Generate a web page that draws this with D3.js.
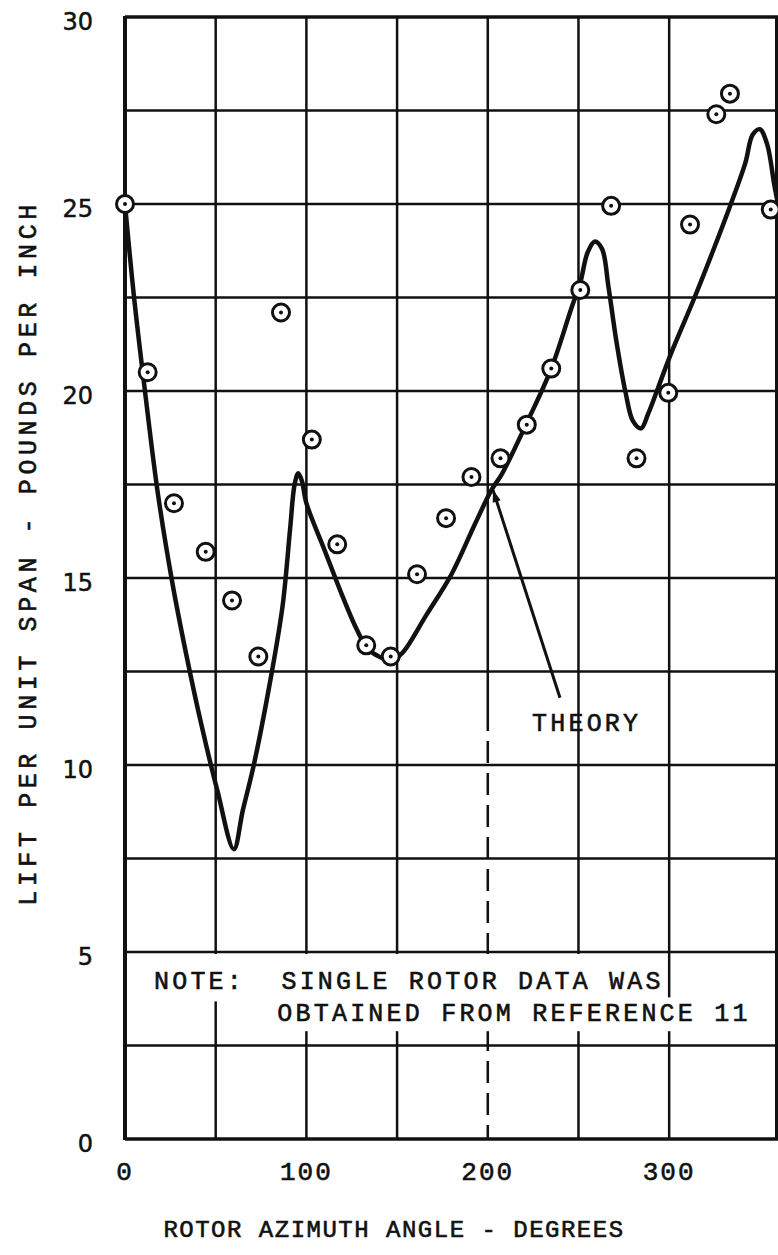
<!DOCTYPE html>
<html>
<head>
<meta charset="utf-8">
<script src="https://cdn.jsdelivr.net/npm/d3@7"></script>
<style>
  html, body { margin: 0; padding: 0; background: #fff; }
  svg { display: block; }
  text { white-space: pre; }
</style>
</head>
<body>
<svg id="chart" width="778" height="1255"></svg>
<script>
// ---------------- data ----------------
const measuredAngle = [0, 12.5, 27, 44.5, 59, 73.5, 86, 103, 117, 133, 146.5, 161, 177, 191, 207, 221.5, 235, 251, 268, 282, 299.5, 311.5, 326, 333.5, 356];
const measuredLift  = [25, 20.5, 17.0, 15.7, 14.4, 12.9, 22.1, 18.7, 15.9, 13.2, 12.9, 15.1, 16.6, 17.7, 18.2, 19.1, 20.6, 22.7, 24.95, 18.2, 19.95, 24.45, 27.4, 27.95, 24.85];

const theoryAngle = [0, 5, 11, 18, 26, 34, 42, 51, 60, 65, 71, 81, 87, 91, 93.5, 95.5, 97.5, 100, 110, 120, 128, 134, 140, 147, 153, 166, 180, 193, 202, 208, 222, 235, 246, 251, 255, 259, 263, 266.5, 271, 276, 280, 284.5, 288.5, 294, 301, 314, 325, 334, 342, 346, 350, 354, 358, 360];
const theoryLift  = [25, 22.5, 20, 17.3, 14.9, 12.9, 11.1, 9.3, 7.75, 8.8, 10.0, 12.5, 14.3, 16.3, 17.5, 17.8, 17.6, 17.0, 15.75, 14.5, 13.6, 13.1, 12.9, 12.8, 13.0, 14.0, 15.1, 16.45, 17.35, 17.8, 19.2, 20.6, 22.2, 22.9, 23.7, 24.0, 23.8, 22.8, 21.3, 19.95, 19.2, 19.0, 19.4, 20.1, 21.0, 22.5, 23.85, 25.0, 26.1, 26.85, 27.0, 26.6, 25.5, 25.0];

const xTickValues = [0, 100, 200, 300];
const xTickLabels = ["0", "100", "200", "300"];
const yTickValues = [0, 5, 10, 15, 20, 25, 30];
const yTickLabels = ["0", "5", "10", "15", "20", "25", "30"];
const xGridValues = [50, 100, 150, 200, 250, 300];
const yGridValues = [2.5, 5, 7.5, 10, 12.5, 15, 17.5, 20, 22.5, 25, 27.5];

const xTitle = "ROTOR AZIMUTH ANGLE - DEGREES";
const yTitle = "LIFT PER UNIT SPAN - POUNDS PER INCH";
const noteLines = ["NOTE:  SINGLE ROTOR DATA WAS", "OBTAINED FROM REFERENCE 11"];
const theoryLabel = "THEORY";
// arrow: from label end to the curve (data units)
const arrowFrom = [239.8, 11.8];
const arrowTo = [202.9, 17.35];
const theoryLabelAt = [224.4, 10.9];

// ---------------- chart ----------------
const svg = d3.select("#chart");
const x = d3.scaleLinear().domain([0, 360]).range([125, 778]);
const y = d3.scaleLinear().domain([0, 30]).range([1139, 17]);

const ink = "#111";
const mono = "'Liberation Mono', 'DejaVu Sans Mono', monospace";

const grid = svg.append("g");
grid.selectAll("line.h").data(yGridValues).join("line")
  .attr("x1", x(0)).attr("x2", x(360))
  .attr("y1", d => y(d)).attr("y2", d => y(d))
  .attr("stroke", ink).attr("stroke-width", 2.5);
grid.selectAll("line.v").data(xGridValues).join("line")
  .attr("x1", d => x(d)).attr("x2", d => x(d))
  .attr("y1", y(30)).attr("y2", d => d === 200 ? y(11.5) : y(0))
  .attr("stroke", ink).attr("stroke-width", 2.5);
grid.append("line")
  .attr("x1", x(200)).attr("x2", x(200))
  .attr("y1", y(11.5)).attr("y2", y(0))
  .attr("stroke", ink).attr("stroke-width", 2.5)
  .attr("stroke-dasharray", "22 10");

// borders
const b = svg.append("g").attr("stroke", ink).attr("fill", "none");
b.append("line").attr("x1", x(0)).attr("x2", x(0)).attr("y1", y(30) - 1).attr("y2", y(0) + 1).attr("stroke-width", 4);
b.append("line").attr("x1", x(0)).attr("x2", x(360)).attr("y1", y(30)).attr("y2", y(30)).attr("stroke-width", 3.5);
b.append("line").attr("x1", x(0)).attr("x2", x(360)).attr("y1", y(0)).attr("y2", y(0)).attr("stroke-width", 3.5);
b.append("line").attr("x1", x(360) - 1.5).attr("x2", x(360) - 1.5).attr("y1", y(30)).attr("y2", y(0)).attr("stroke-width", 3);

function typeText(sel, size, spacing) {
  return sel.attr("font-family", mono).attr("font-size", size)
    .attr("letter-spacing", spacing).attr("fill", ink)
    .attr("stroke", ink).attr("stroke-width", 0.6);
}

// note with white background
const noteG = svg.append("g");
const n1 = typeText(noteG.append("text").text(noteLines[0])
  .attr("x", x(16)).attr("y", y(4.0)), 25, 3.2);
const n2 = typeText(noteG.append("text").text(noteLines[1])
  .attr("x", x(84)).attr("y", y(3.15)), 25, 3.2);
const bb1 = n1.node().getBBox(), bb2 = n2.node().getBBox();
noteG.insert("rect", "text").attr("x", bb1.x - 6).attr("y", y(5) + 2)
  .attr("width", bb1.width + 8).attr("height", (bb1.y + bb1.height + 4) - (y(5) + 2)).attr("fill", "#fff");
noteG.insert("rect", "text").attr("x", bb2.x - 6).attr("y", bb1.y + bb1.height)
  .attr("width", bb2.width + 8).attr("height", (bb2.y + bb2.height + 2) - (bb1.y + bb1.height)).attr("fill", "#fff");

// theory curve
const line = d3.line().x(d => x(d[0])).y(d => y(d[1])).curve(d3.curveCatmullRom.alpha(0.5));
svg.append("path")
  .datum(theoryAngle.map((a, i) => [a, theoryLift[i]]))
  .attr("d", line).attr("fill", "none").attr("stroke", ink)
  .attr("stroke-width", 4.5).attr("stroke-linejoin", "round").attr("stroke-linecap", "round");

// measured points
const pts = svg.append("g");
measuredAngle.forEach((a, i) => {
  pts.append("circle").attr("cx", x(a)).attr("cy", y(measuredLift[i])).attr("r", 8.5)
    .attr("fill", "#fff").attr("stroke", ink).attr("stroke-width", 3);
  pts.append("circle").attr("cx", x(a)).attr("cy", y(measuredLift[i])).attr("r", 2).attr("fill", ink);
});

// THEORY annotation
svg.append("defs").append("marker").attr("id", "ah")
  .attr("viewBox", "0 0 10 10").attr("refX", 10).attr("refY", 5)
  .attr("markerWidth", 8).attr("markerHeight", 4).attr("markerUnits", "strokeWidth")
  .attr("orient", "auto")
  .append("path").attr("d", "M0,1.5 L10,5 L0,8.5 Z").attr("fill", ink);
svg.append("line")
  .attr("x1", x(arrowFrom[0])).attr("y1", y(arrowFrom[1]))
  .attr("x2", x(arrowTo[0])).attr("y2", y(arrowTo[1]))
  .attr("stroke", ink).attr("stroke-width", 3).attr("marker-end", "url(#ah)");
typeText(svg.append("text").text(theoryLabel)
  .attr("x", x(theoryLabelAt[0])).attr("y", y(theoryLabelAt[1])), 25, 3.2);

// y tick labels
svg.append("g").selectAll("text").data(yTickValues).join("text")
  .text((d, i) => yTickLabels[i])
  .attr("x", 93).attr("y", d => y(d) + 4).attr("dy", "0.36em")
  .attr("text-anchor", "end")
  .attr("font-family", "'DejaVu Sans', sans-serif").attr("font-size", 24)
  .attr("fill", ink).attr("stroke", ink).attr("stroke-width", 0.5);

// x tick labels
typeText(svg.append("g").selectAll("text").data(xTickValues).join("text")
  .text((d, i) => xTickLabels[i])
  .attr("x", d => x(d)).attr("y", 1171).attr("dy", "0.36em")
  .attr("text-anchor", "middle"), 26, 2);

// axis titles
typeText(svg.append("text").text(xTitle)
  .attr("x", 394).attr("y", 1228).attr("dy", "0.36em").attr("text-anchor", "middle"), 24, 1.5);
typeText(svg.append("text").text(yTitle)
  .attr("transform", "translate(27," + 553 + ") rotate(-90)")
  .attr("dy", "0.36em").attr("text-anchor", "middle"), 25, 4.6);
</script>
</body>
</html>
